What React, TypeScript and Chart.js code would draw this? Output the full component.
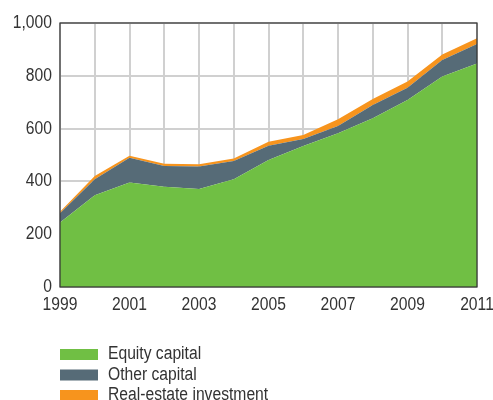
import React, { useEffect, useRef } from "react";
import { Chart, registerables } from "chart.js";

Chart.register(...registerables);

const years = ["1999", "2000", "2001", "2002", "2003", "2004", "2005", "2006", "2007", "2008", "2009", "2010", "2011"];
const xTickLabels = ["1999", "", "2001", "", "2003", "", "2005", "", "2007", "", "2009", "", "2011"];
const equityCapital = [244, 348, 396, 380, 371, 408, 481, 534, 582, 639, 708, 797, 847];
const otherCapital = [35, 60, 94, 78, 85, 69, 54, 27, 28, 50, 47, 63, 73];
const realEstate = [6, 12, 7, 9, 9, 10, 15, 15, 25, 23, 23, 21, 22];
const seriesNames = ["Equity capital", "Other capital", "Real-estate investment"];
const seriesColors = ["#70bf44", "#566b77", "#f7941d"];

const FONT = "'Liberation Sans', Arial, sans-serif";
const SQUEEZE = 0.87;

function narrowText(ctx: CanvasRenderingContext2D, text: string, x: number, y: number, align: "left" | "right" | "center", size: number) {
  ctx.save();
  ctx.font = `${size}px ${FONT}`;
  ctx.fillStyle = "#333333";
  ctx.textBaseline = "middle";
  ctx.textAlign = align;
  ctx.translate(x, y);
  ctx.scale(SQUEEZE, 1);
  ctx.fillText(text, 0, 0);
  ctx.restore();
}

export default function App() {
  const ref = useRef<HTMLCanvasElement | null>(null);

  useEffect(() => {
    document.body.style.margin = "0";
    const canvas = ref.current;
    if (!canvas) return;

    const boxPlugin = {
      id: "boxAndLegend",
      afterDraw(chart: any) {
        const { ctx, chartArea, scales } = chart;
        ctx.save();
        ctx.strokeStyle = "#333333";
        ctx.lineWidth = 1.2;
        ctx.strokeRect(chartArea.left, chartArea.top, chartArea.right - chartArea.left, chartArea.bottom - chartArea.top);
        ctx.restore();
        // y tick labels
        scales.y.ticks.forEach((t: any) => {
          const py = scales.y.getPixelForValue(t.value);
          narrowText(ctx, Number(t.value).toLocaleString("en-US"), chartArea.left - 8, py, "right", 18);
        });
        // x tick labels
        xTickLabels.forEach((lab, i) => {
          if (!lab) return;
          const px = scales.x.getPixelForValue(i);
          narrowText(ctx, lab, px, chartArea.bottom + 18, "center", 18);
        });
        // legend
        const rows = [354.5, 375, 395.5];
        chart.data.datasets.forEach((ds: any, i: number) => {
          ctx.save();
          ctx.fillStyle = ds.backgroundColor;
          ctx.fillRect(60, rows[i] - 5.5, 38, 11);
          ctx.restore();
          narrowText(ctx, ds.label, 108, rows[i], "left", 18);
        });
      },
    };

    const mk = (label: string, data: number[], color: string, fill: string | number) => ({
      label,
      data,
      backgroundColor: color,
      borderColor: color,
      borderWidth: 0,
      pointRadius: 0,
      fill,
      tension: 0,
    });

    const chart = new Chart(canvas, {
      type: "line",
      data: {
        labels: years,
        datasets: [
          mk(seriesNames[0], equityCapital, seriesColors[0], "origin"),
          mk(seriesNames[1], otherCapital, seriesColors[1], "-1"),
          mk(seriesNames[2], realEstate, seriesColors[2], "-1"),
        ] as any,
      },
      options: {
        animation: false,
        responsive: false,
        maintainAspectRatio: false,
        layout: { padding: { left: 0, right: 16, top: 23, bottom: 83 } },
        plugins: {
          legend: { display: false },
          tooltip: { enabled: false },
        },
        scales: {
          x: {
            z: 1,
            offset: false,
            grid: { color: "#d0d0d0", lineWidth: 2, drawTicks: false },
            border: { display: false },
            ticks: { display: false, autoSkip: false },
            afterFit: (s: any) => { s.height = 30; },
          },
          y: {
            z: 1,
            stacked: true,
            min: 0,
            max: 1000,
            grid: { color: "#d0d0d0", lineWidth: 2, drawTicks: false },
            border: { display: false },
            ticks: { display: false, stepSize: 200 },
            afterFit: (s: any) => { s.width = 60; },
          },
        },
      },
      plugins: [boxPlugin],
    });

    return () => chart.destroy();
  }, []);

  return (
    <div style={{ width: 493, height: 400, background: "#ffffff" }}>
      <canvas ref={ref} width={493} height={400} style={{ display: "block" }} />
    </div>
  );
}
